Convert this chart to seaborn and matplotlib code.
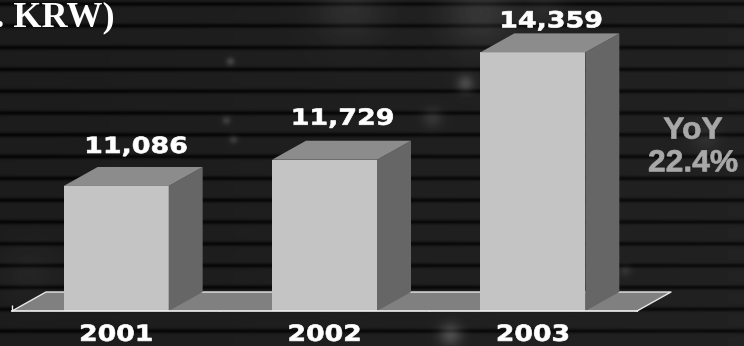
import numpy as np
import pandas as pd
import matplotlib
matplotlib.use("Agg")
import matplotlib.pyplot as plt
from matplotlib.patches import Polygon
from matplotlib.patheffects import AbstractPathEffect
from matplotlib.ticker import FixedLocator
from matplotlib.transforms import Affine2D
import seaborn as sns

years = ["2001", "2002", "2003"]
revenue = [11086, 11729, 14359]
value_labels = ["11,086", "11,729", "14,359"]
label_lift_px = [20, 22, 12]
label_shift_px = [3, 1, 1]
unit_text = "(Bn. KRW)"
yoy_text = "YoY\n22.4%"

W, H = 744, 346
BASE_PX, LEFT_PX, RIGHT_PX = 311, 12, 637
YMIN, UNITS_PER_PX = 8023, 24.5
DEPTH_X_PX, DEPTH_Y_PX = 34, 19
FRONT, SIDE, TOP, FLOOR = "#c4c4c4", "#666666", "#8c8c8c", "#808080"


class Widen(AbstractPathEffect):
    """Stretch text horizontally about a fixed display x."""
    def __init__(self, cx, factor):
        super().__init__()
        self.cx, self.factor = cx, factor

    def draw_path(self, renderer, gc, tpath, affine, rgbFace=None):
        stretch = Affine2D().translate(-self.cx, 0).scale(self.factor, 1).translate(self.cx, 0)
        gc.set_linewidth(0.5)
        gc.set_foreground(rgbFace)
        renderer.draw_path(gc, tpath, affine + stretch, rgbFace)


sns.set_theme(style="white")
fig = plt.figure(figsize=(W / 100, H / 100), dpi=100)

# dark striped backdrop
bgax = fig.add_axes([0, 0, 1, 1], zorder=0)
yy, xx = np.mgrid[0:H, 0:W]
bg = 28 + 6 * (xx / W)
phase = ((yy - 3.5) / 21.8) % 1.0
dist = np.minimum(phase, 1 - phase) * 21.8
bg = bg - 22 * np.exp(-(dist / 2.3) ** 2)
glows = [(230, 61, 3, 35), (226, 120, 3, 30), (233, 139, 3, 28), (432, 117, 7, 22),
         (465, 83, 6, 40), (705, 138, 10, 14), (625, 270, 4, 18), (450, 334, 8, 45),
         (350, 6, 25, 16), (480, 12, 25, 22), (30, 272, 22, 8), (545, 5, 15, 10)]
for gx, gy, gs, ga in glows:
    bg = bg + ga * np.exp(-((xx - gx) ** 2 + (yy - gy) ** 2) / (2 * gs ** 2))
bgax.imshow(np.clip(bg, 0, 255), cmap="gray", vmin=0, vmax=255, aspect="auto",
            extent=(0, W, H, 0), interpolation="bilinear")
bgax.set_axis_off()

# data axes: bottom at the baseline, top at the figure's upper edge
ax = fig.add_axes([LEFT_PX / W, (H - BASE_PX) / H, (RIGHT_PX - LEFT_PX) / W, BASE_PX / H], zorder=1)
ax.patch.set_alpha(0)
df = pd.DataFrame({"year": years, "revenue": revenue})
sns.barplot(data=df, x="year", y="revenue", color=FRONT, saturation=1, width=0.504, ax=ax, zorder=3)
ax.set_xlim(-0.5, 2.5)
ax.set_ylim(YMIN, YMIN + BASE_PX * UNITS_PER_PX)

dx = DEPTH_X_PX / ((RIGHT_PX - LEFT_PX) / 3)
dy = DEPTH_Y_PX * UNITS_PER_PX

bars = list(ax.patches)
for bar in bars:
    bar.set_facecolor(FRONT)
    bar.set_edgecolor("none")
    x0, x1, h = bar.get_x(), bar.get_x() + bar.get_width(), bar.get_height()
    ax.add_patch(Polygon([(x1, YMIN), (x1 + dx, YMIN + dy), (x1 + dx, h + dy), (x1, h)],
                         facecolor=SIDE, edgecolor="none", zorder=3, clip_on=False))
    ax.add_patch(Polygon([(x0, h), (x0 + dx, h + dy), (x1 + dx, h + dy), (x1, h)],
                         facecolor=TOP, edgecolor="none", zorder=3, clip_on=False))

# floor
ax.add_patch(Polygon([(-0.5, YMIN), (-0.5 + dx, YMIN + dy), (2.5 + dx, YMIN + dy), (2.5, YMIN)],
                     facecolor=FLOOR, edgecolor="none", zorder=1, clip_on=False))
ax.plot([-0.5, -0.5 + dx, 2.5 + dx, 2.5], [YMIN, YMIN + dy, YMIN + dy, YMIN],
        color="#e6e6e6", lw=1.0, zorder=2, clip_on=False)

sns.despine(ax=ax, left=True, top=True, right=True)
ax.spines["bottom"].set_color("#f0f0f0")
ax.spines["bottom"].set_linewidth(1.2)
ax.spines["bottom"].set_zorder(5)
ax.set_xlabel("")
ax.set_ylabel("")
ax.set_yticks([])
ax.xaxis.set_minor_locator(FixedLocator([-0.5, 0.5, 1.5, 2.5]))
ax.tick_params(axis="x", which="minor", direction="in", length=4, width=1, color="#f0f0f0", bottom=True)
ax.tick_params(axis="x", which="major", length=0, pad=10, labelcolor="white", labelsize=16)
for i, t in enumerate(ax.get_xticklabels()):
    t.set_fontfamily("DejaVu Sans")
    t.set_fontweight("bold")
    t.set_path_effects([Widen(ax.transData.transform((i, YMIN))[0] - 1, 1.2)])

# value labels
for bar, text, lift, shift in zip(bars, value_labels, label_lift_px, label_shift_px):
    xc = bar.get_x() + bar.get_width() / 2 + dx / 2
    ax.annotate(text, (xc, bar.get_height() + dy), xytext=(shift * 0.72, lift * 0.72), textcoords="offset points",
                ha="center", va="center", color="white", fontsize=16, fontweight="bold",
                family="DejaVu Sans", annotation_clip=False, zorder=6,
                path_effects=[Widen(ax.transData.transform((xc, YMIN))[0] + shift, 1.21)])

fig.text(115 / W, 1 - 26 / H, unit_text, ha="right", va="baseline", color="white",
         fontsize=26, fontweight="bold", family="Liberation Serif", zorder=6)
fig.text(693 / W, 1 - 147 / H, yoy_text, ha="center", va="center", color="#a8a8a8",
         fontsize=22, fontweight="bold", family="Liberation Sans", linespacing=1.12, zorder=6,
         path_effects=[Widen(693, 1.04)])

fig.savefig("out.png", dpi=100)
